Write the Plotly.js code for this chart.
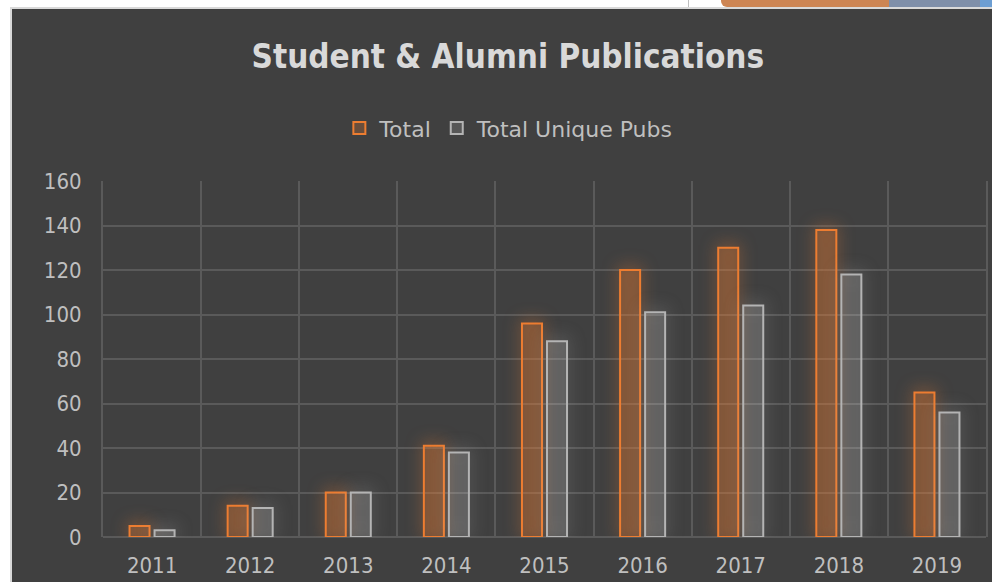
<!DOCTYPE html>
<html>
<head>
<meta charset="utf-8">
<script src="https://cdn.plot.ly/plotly-3.0.1.min.js"></script>
<style>
  html, body { margin: 0; padding: 0; background: #ffffff; width: 992px; height: 582px; overflow: hidden; position: relative; }
  #frame { position: absolute; left: 10px; top: 7px; width: 982px; height: 575px; background: #d9d9d9; }
  #chart { position: absolute; left: 12px; top: 9px; width: 980px; height: 573px; }
  #deco-line { position: absolute; left: 688px; top: 0; width: 1px; height: 7px; background: #bfbfbf; }
  #deco-orange { position: absolute; left: 721px; top: 0; width: 168px; height: 7px; background: #cd8553; border-bottom-left-radius: 6px; }
  #deco-blue { position: absolute; left: 889px; top: 0; width: 91px; height: 7px; background: #7f8fa9; }
  #deco-blue2 { position: absolute; left: 980px; top: 0; width: 12px; height: 7px; background: #6d9ed2; }
</style>
</head>
<body>
<div id="deco-line"></div>
<div id="deco-orange"></div>
<div id="deco-blue"></div>
<div id="deco-blue2"></div>
<div id="frame"></div>
<div id="chart"></div>
<script>
const years = ['2011', '2012', '2013', '2014', '2015', '2016', '2017', '2018', '2019'];
const totalPubs = [5, 14, 20, 41, 96, 120, 130, 138, 65];
const uniquePubs = [3, 13, 20, 38, 88, 101, 104, 118, 56];
const seriesNames = ['Total', 'Total Unique Pubs'];
const yTicks = [0, 20, 40, 60, 80, 100, 120, 140, 160];

const FONT = 'DejaVu Sans, Verdana, sans-serif';
const FONT_C = 'DejaVu Sans Condensed, DejaVu Sans, sans-serif';

const traces = [
  {
    type: 'bar', name: seriesNames[0], x: years, y: totalPubs,
    marker: { color: 'rgba(237,125,49,0.24)', line: { color: '#ed7d31', width: 2 } },
    hoverinfo: 'x+y'
  },
  {
    type: 'bar', name: seriesNames[1], x: years, y: uniquePubs,
    marker: { color: 'rgba(255,255,255,0.12)', line: { color: '#b4b4b4', width: 2 } },
    hoverinfo: 'x+y'
  }
];

const layout = {
  width: 980, height: 573,
  paper_bgcolor: '#404040', plot_bgcolor: '#404040',
  margin: { l: 91, r: 6, t: 172, b: 45 },
  barmode: 'group', bargap: 0.49, bargroupgap: 0.2,
  title: {
    text: '<b>Student &amp; Alumni Publications</b>',
    font: { family: FONT_C, size: 33, color: '#d9d9d9' },
    x: 0.506, xanchor: 'center', y: 0.918, yanchor: 'middle', xref: 'container', yref: 'container'
  },
  showlegend: true,
  legend: {
    orientation: 'h', xref: 'container', yref: 'container', x: 0.507, xanchor: 'center', y: 0.792, yanchor: 'middle',
    font: { family: FONT, size: 22, color: '#bfbfbf' }, bgcolor: 'rgba(0,0,0,0)', itemwidth: 30,
    traceorder: 'normal'
  },
  xaxis: {
    type: 'category', tickson: 'boundaries', showgrid: true, gridcolor: '#5a5a5a', gridwidth: 2,
    ticks: '', tickfont: { family: FONT_C, size: 22, color: '#bfbfbf' },
    showline: false, zeroline: false, ticklabelstandoff: 13, fixedrange: true
  },
  yaxis: {
    range: [0, 160], tickvals: yTicks, ticktext: yTicks.map(String),
    showgrid: true, gridcolor: '#5a5a5a', gridwidth: 2, zeroline: true, zerolinecolor: '#5a5a5a', zerolinewidth: 2,
    showline: true, mirror: true, linecolor: '#5a5a5a', linewidth: 2,
    ticks: '', tickfont: { family: FONT_C, size: 22, color: '#bfbfbf' }, ticklabelstandoff: 15, fixedrange: true
  }
};

Plotly.newPlot('chart', traces, layout, { displayModeBar: false, staticPlot: true }).then(function () {
  const groups = document.querySelectorAll('#chart .barlayer .trace.bars');
  if (groups[0]) groups[0].style.filter = 'drop-shadow(0 -2px 8px rgba(237,125,49,0.75))';
  if (groups[1]) groups[1].style.filter = 'drop-shadow(0 -2px 8px rgba(210,210,210,0.5))';
});
</script>
</body>
</html>
